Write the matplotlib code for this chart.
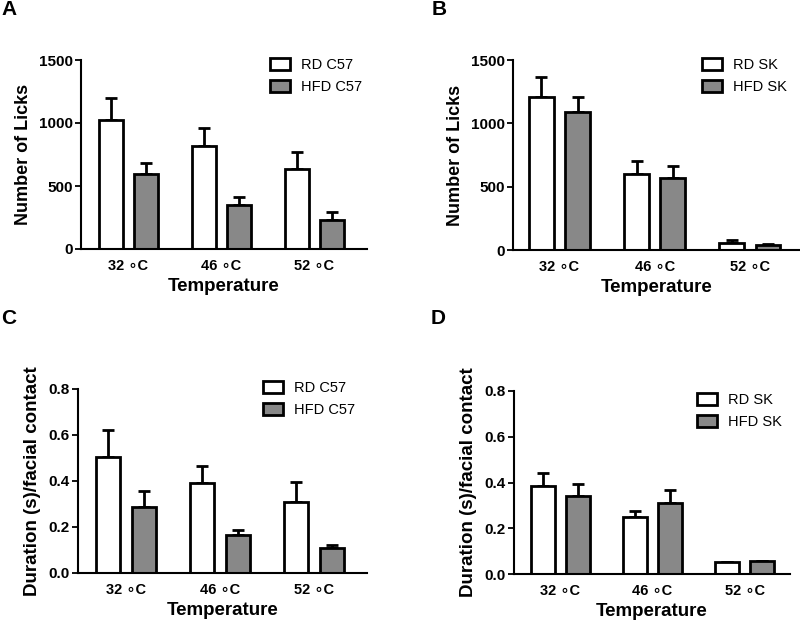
import matplotlib
matplotlib.use("Agg")
import matplotlib.pyplot as plt
import numpy as np
from matplotlib.patches import Patch

plt.rcParams['font.family'] = ['Liberation Sans', 'DejaVu Sans']

temps = ["32 \u2218C", "46 \u2218C", "52 \u2218C"]

# Panel A: licks, C57
a_rd = [1021, 817, 635]
a_rd_err = [175, 143, 135]
a_hfd = [595, 349, 228]
a_hfd_err = [90, 64, 66]

# Panel B: licks, SK
b_rd = [1208, 597, 58]
b_rd_err = [160, 103, 21]
b_hfd = [1087, 566, 40]
b_hfd_err = [121, 94, 10]

# Panel C: duration, C57
c_rd = [0.505, 0.393, 0.307]
c_rd_err = [0.115, 0.073, 0.089]
c_hfd = [0.287, 0.165, 0.108]
c_hfd_err = [0.068, 0.021, 0.014]

# Panel D: duration, SK
d_rd = [0.383, 0.247, 0.051]
d_rd_err = [0.060, 0.029, 0.002]
d_hfd = [0.343, 0.309, 0.055]
d_hfd_err = [0.049, 0.060, 0.003]

W, H = 800, 621
fig = plt.figure(figsize=(W / 100, H / 100), dpi=100)

GRAY = "#888888"


def make_panel(rect_px, xlim, rd, rd_err, hfd, hfd_err, labels, ylim, yticks,
               yticklabels, ylabel, ylabel_size, letter, letter_xy, leg_xy):
    l, t, r, b = rect_px
    ax = fig.add_axes([l / W, 1 - b / H, (r - l) / W, (b - t) / H])
    x = np.arange(len(temps))
    off = 0.19
    bw = 0.26
    for xs, vals, errs, fc in [(x - off, rd, rd_err, "white"),
                               (x + off, hfd, hfd_err, GRAY)]:
        ax.bar(xs, vals, width=bw, color=fc, edgecolor="black", linewidth=2.0, zorder=2)
        ax.errorbar(xs, vals, yerr=[np.zeros(len(vals)), errs], fmt="none",
                    ecolor="black", elinewidth=2.0, capsize=4, capthick=2.0, zorder=1)
    ax.set_xlim(*xlim)
    ax.set_ylim(*ylim)
    ax.set_yticks(yticks)
    ax.set_yticklabels(yticklabels, fontsize=11, fontweight="bold")
    ax.set_xticks(x)
    ax.set_xticklabels(temps, fontsize=10.5, fontweight="bold")
    ax.tick_params(axis="x", length=0, pad=7)
    ax.tick_params(axis="y", length=4, width=1.3, pad=2)
    for s in ["top", "right"]:
        ax.spines[s].set_visible(False)
    for s in ["left", "bottom"]:
        ax.spines[s].set_linewidth(1.5)
    ax.set_xlabel("Temperature", fontsize=13.5, fontweight="bold", labelpad=4)
    ax.set_ylabel(ylabel, fontsize=ylabel_size, fontweight="bold", labelpad=5)
    handles = [Patch(facecolor="white", edgecolor="black", linewidth=2.0),
               Patch(facecolor=GRAY, edgecolor="black", linewidth=2.0)]
    ax.legend(handles, labels, loc="upper left",
              bbox_to_anchor=(leg_xy[0] / W, 1 - leg_xy[1] / H),
              bbox_transform=fig.transFigure, frameon=False,
              prop={"size": 10.5}, handlelength=1.35, handleheight=0.85,
              handletextpad=0.75, labelspacing=0.55, borderpad=0, borderaxespad=0)
    fig.text(letter_xy[0] / W, 1 - letter_xy[1] / H, letter, fontsize=15,
             fontweight="bold", ha="left", va="top")
    return ax


make_panel((81, 60, 367, 249), (-0.511, 2.565), a_rd, a_rd_err, a_hfd, a_hfd_err,
           ["RD C57", "HFD C57"], (0, 1500), [0, 500, 1000, 1500],
           ["0", "500", "1000", "1500"], "Number of Licks", 13, "A", (1, 0), (270, 58))
make_panel((513, 60, 800, 250), (-0.489, 2.526), b_rd, b_rd_err, b_hfd, b_hfd_err,
           ["RD SK", "HFD SK"], (0, 1500), [0, 500, 1000, 1500],
           ["0", "500", "1000", "1500"], "Number of Licks", 13, "B", (432, 0), (702, 58))
make_panel((78, 389, 367, 573), (-0.511, 2.565), c_rd, c_rd_err, c_hfd, c_hfd_err,
           ["RD C57", "HFD C57"], (0, 0.8), [0, 0.2, 0.4, 0.6, 0.8],
           ["0.0", "0.2", "0.4", "0.6", "0.8"], "Duration (s)/facial contact", 13.5, "C",
           (1, 309), (263, 381))
make_panel((514, 391, 790, 574), (-0.502, 2.49), d_rd, d_rd_err, d_hfd, d_hfd_err,
           ["RD SK", "HFD SK"], (0, 0.8), [0, 0.2, 0.4, 0.6, 0.8],
           ["0.0", "0.2", "0.4", "0.6", "0.8"], "Duration (s)/facial contact", 13.5, "D",
           (431, 309), (697, 393))

fig.savefig("out.png", dpi=100)
